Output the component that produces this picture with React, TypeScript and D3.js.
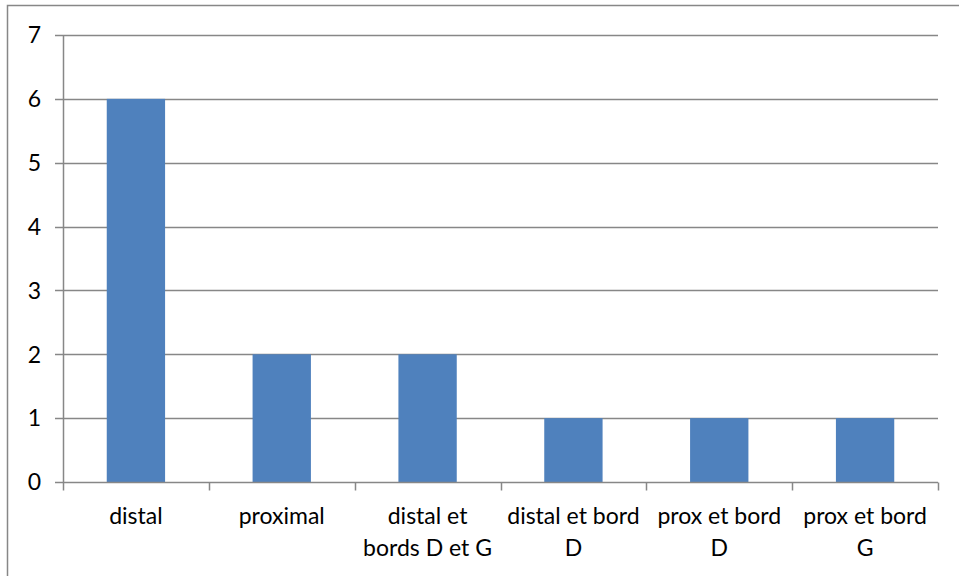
import React, { useEffect, useRef } from 'react';
import * as d3 from 'd3';

// Chart data
const categories: string[] = [
  'distal',
  'proximal',
  'distal et bords D et G',
  'distal et bord D',
  'prox et bord D',
  'prox et bord G',
];
const categoryLines: string[][] = [
  ['distal'],
  ['proximal'],
  ['distal et', 'bords D et G'],
  ['distal et bord', 'D'],
  ['prox et bord', 'D'],
  ['prox et bord', 'G'],
];
const values: number[] = [6, 2, 2, 1, 1, 1];
const yTicks: number[] = [0, 1, 2, 3, 4, 5, 6, 7];

const App: React.FC = () => {
  const svgRef = useRef<SVGSVGElement>(null);

  useEffect(() => {
    if (!svgRef.current) return;
    const width = 959;
    const height = 576;
    const margin = { left: 63, right: 21, top: 35, bottom: 94 };

    const svg = d3.select(svgRef.current);
    svg.selectAll('*').remove();

    // Outer chart border
    svg.append('rect')
      .attr('x', 7.5)
      .attr('y', 5.5)
      .attr('width', 960)
      .attr('height', 600)
      .attr('fill', 'white')
      .attr('stroke', '#878787')
      .attr('stroke-width', 1.5);

    const x = d3.scaleBand<string>()
      .domain(categories)
      .range([margin.left, width - margin.right])
      .paddingInner(0.6)
      .paddingOuter(0.3);

    const y = d3.scaleLinear()
      .domain([0, 7])
      .range([height - margin.bottom, margin.top]);

    const font = 'Lato, "Open Sans", sans-serif';
    const fontSize = 23;

    // Gridlines
    svg.append('g')
      .selectAll('line')
      .data(yTicks.filter(t => t > 0))
      .join('line')
      .attr('x1', margin.left - 8)
      .attr('x2', width - margin.right)
      .attr('y1', d => Math.round(y(d)) + 0.5)
      .attr('y2', d => Math.round(y(d)) + 0.5)
      .attr('stroke', '#878787')
      .attr('stroke-width', 1.5);

    // Bars
    svg.append('g')
      .selectAll('rect')
      .data(values)
      .join('rect')
      .attr('x', (_, i) => x(categories[i])!)
      .attr('width', x.bandwidth())
      .attr('y', d => y(d))
      .attr('height', d => y(0) - y(d))
      .attr('fill', '#4F81BD');

    // Y axis
    const y0 = Math.round(y(0)) + 0.5;
    svg.append('line')
      .attr('x1', margin.left + 0.5)
      .attr('x2', margin.left + 0.5)
      .attr('y1', margin.top)
      .attr('y2', y0)
      .attr('stroke', '#878787')
      .attr('stroke-width', 1.5);
    svg.append('line')
      .attr('x1', margin.left - 8)
      .attr('x2', margin.left)
      .attr('y1', y0)
      .attr('y2', y0)
      .attr('stroke', '#878787')
      .attr('stroke-width', 1.5);

    svg.append('g')
      .selectAll('text')
      .data(yTicks)
      .join('text')
      .attr('x', 41)
      .attr('y', d => y(d))
      .attr('dy', '0.36em')
      .attr('text-anchor', 'end')
      .attr('font-family', font)
      .attr('font-size', fontSize)
      .attr('fill', '#000')
      .text(d => d);

    // X axis
    svg.append('line')
      .attr('x1', margin.left)
      .attr('x2', width - margin.right)
      .attr('y1', y0)
      .attr('y2', y0)
      .attr('stroke', '#878787')
      .attr('stroke-width', 1.5);

    const step = x.step();
    const boundaries = d3.range(categories.length + 1).map(i => margin.left + i * step);
    svg.append('g')
      .selectAll('line')
      .data(boundaries)
      .join('line')
      .attr('x1', d => Math.round(d) + 0.5)
      .attr('x2', d => Math.round(d) + 0.5)
      .attr('y1', y0)
      .attr('y2', y0 + 8)
      .attr('stroke', '#878787')
      .attr('stroke-width', 1.5);

    const labels = svg.append('g')
      .selectAll('text')
      .data(categoryLines)
      .join('text')
      .attr('x', (_, i) => x(categories[i])! + x.bandwidth() / 2)
      .attr('y', 524)
      .attr('text-anchor', 'middle')
      .attr('font-family', font)
      .attr('font-size', fontSize)
      .attr('fill', '#000');
    labels.selectAll('tspan')
      .data(d => d)
      .join('tspan')
      .attr('x', function () {
        return (this.parentNode as SVGTextElement).getAttribute('x');
      })
      .attr('dy', (_, j) => (j === 0 ? 0 : 32))
      .text(d => d);
  }, []);

  return <svg ref={svgRef} width={959} height={576} style={{ display: 'block', position: 'absolute', left: 0, top: 0 }} />;
};

export default App;
